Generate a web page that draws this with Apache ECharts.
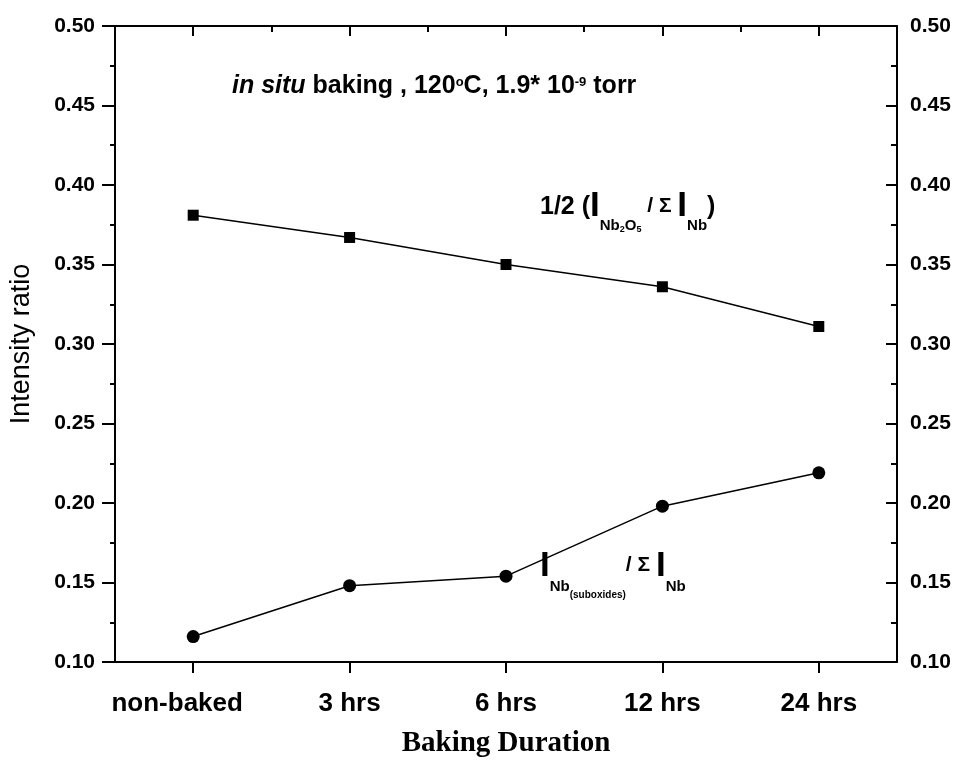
<!DOCTYPE html>
<html><head><meta charset="utf-8">
<script src="https://cdn.jsdelivr.net/npm/echarts@6/dist/echarts.min.js"></script>
<style>html,body{margin:0;padding:0;background:#fff}#c{width:961px;height:766px}</style>
</head><body><div id="c"></div>
<script>
const categories = ['non-baked', '3 hrs', '6 hrs', '12 hrs', '24 hrs'];
const nb2o5Half = [0.381, 0.367, 0.350, 0.336, 0.311];
const suboxides = [0.116, 0.148, 0.154, 0.198, 0.219];
const yMin = 0.10, yMax = 0.50, yStep = 0.05;

const SANS = "'Liberation Sans', Arial, sans-serif";
const SERIF = "'Liberation Serif', 'Times New Roman', serif";
const chart = echarts.init(document.getElementById('c'), null, {renderer: 'canvas'});

const lineStyle = {color: '#000', width: 2};
const catData = categories.map((c, i) => i === 0 ? {value: c, textStyle: {padding: [0, 32, 0, 0]}} : c);

function yAxisBase(pos, inside, showName) {
  return {
    type: 'value', position: pos, min: yMin, max: yMax, interval: yStep,
    axisLine: {show: true, lineStyle: lineStyle},
    axisTick: {show: true, inside: inside, length: inside ? 11 : 13, lineStyle: lineStyle},
    minorTick: {show: true, splitNumber: 2, length: inside ? 6 : 5, lineStyle: {color: '#000', width: 2}},
    splitLine: {show: false},
    axisLabel: {formatter: v => v.toFixed(2), color: '#000', fontFamily: SANS, fontSize: 21, fontWeight: 'bold',
                margin: inside ? 13 : 20},
    name: showName ? 'Intensity ratio' : '',
    nameLocation: 'middle', nameGap: 80,
    nameTextStyle: {fontFamily: SANS, fontSize: 27, color: '#000'}
  };
}

const tk = (fs, pad, extra) => Object.assign({fontFamily: SANS, fontWeight: 'bold', fontSize: fs, lineHeight: fs, verticalAlign: 'top', padding: [pad, 0, 0, 0], fill: '#000'}, extra || {});

const option = {
  animation: false,
  backgroundColor: '#fff',
  grid: {left: 115, right: 64, top: 26, bottom: 104},
  xAxis: [
    {type: 'category', position: 'bottom', data: catData, boundaryGap: true,
     axisLine: {show: true, onZero: false, lineStyle: lineStyle},
     axisTick: {show: true, alignWithLabel: true, length: 11, lineStyle: lineStyle},
     axisLabel: {interval: 0, color: '#000', fontFamily: SANS, fontSize: 26, fontWeight: 'bold', margin: 29},
     name: 'Baking Duration', nameLocation: 'middle', nameGap: 67,
     nameTextStyle: {fontFamily: SERIF, fontSize: 29, fontWeight: 'bold', color: '#000'}},
    {type: 'category', position: 'top', data: categories, boundaryGap: true, offset: 0,
     axisLine: {show: true, onZero: false, lineStyle: lineStyle},
     axisTick: {show: true, inside: true, alignWithLabel: true, length: 10, lineStyle: lineStyle},
     axisLabel: {show: false}},
    {type: 'category', position: 'top', data: categories, boundaryGap: true, offset: 0,
     axisLine: {show: false},
     axisTick: {show: true, inside: true, alignWithLabel: false, length: 6, lineStyle: lineStyle},
     axisLabel: {show: false}}
  ],
  yAxis: [yAxisBase('left', false, true), yAxisBase('right', true, false)],
  series: [
    {type: 'line', xAxisIndex: 0, yAxisIndex: 0, data: nb2o5Half, symbol: 'rect', symbolSize: 11,
     lineStyle: {color: '#000', width: 1.5}, itemStyle: {color: '#000'}},
    {type: 'line', xAxisIndex: 0, yAxisIndex: 0, data: suboxides, symbol: 'circle', symbolSize: 13,
     lineStyle: {color: '#000', width: 1.5}, itemStyle: {color: '#000'}}
  ],
  graphic: [
    {type: 'text', left: 232, top: 74, style: {
      text: '{it|in situ}{b| baking , 120}{s|o}{b|C, 1.9* 10}{s|-9}{b| torr}',
      rich: {
        it: tk(25, 0, {lineHeight: 28, fontStyle: 'italic'}),
        b: tk(25, 0, {lineHeight: 28}),
        s: tk(13, 2)
      }}},
    {type: 'text', left: 540, top: 189, style: {
      text: '{m|1/2 (}{I|I}{n|Nb}{t|2}{n|O}{t|5}{g| / Σ }{I|I}{n|Nb}{m|)}',
      rich: {
        m: tk(25, 6),
        g: tk(21, 7),
        I: tk(35, 0),
        n: tk(15, 29),
        t: tk(9, 36)
      }}},
    {type: 'text', left: 540, top: 549, style: {
      text: '{I|I}{n|Nb}{t|(suboxides)}{g|/ Σ }{I|I}{n|Nb}',
      rich: {
        g: tk(21, 6),
        I: tk(35, 0),
        n: tk(15, 30),
        t: tk(10, 41)
      }}}
  ]
};
chart.setOption(option);
</script>
</body></html>
